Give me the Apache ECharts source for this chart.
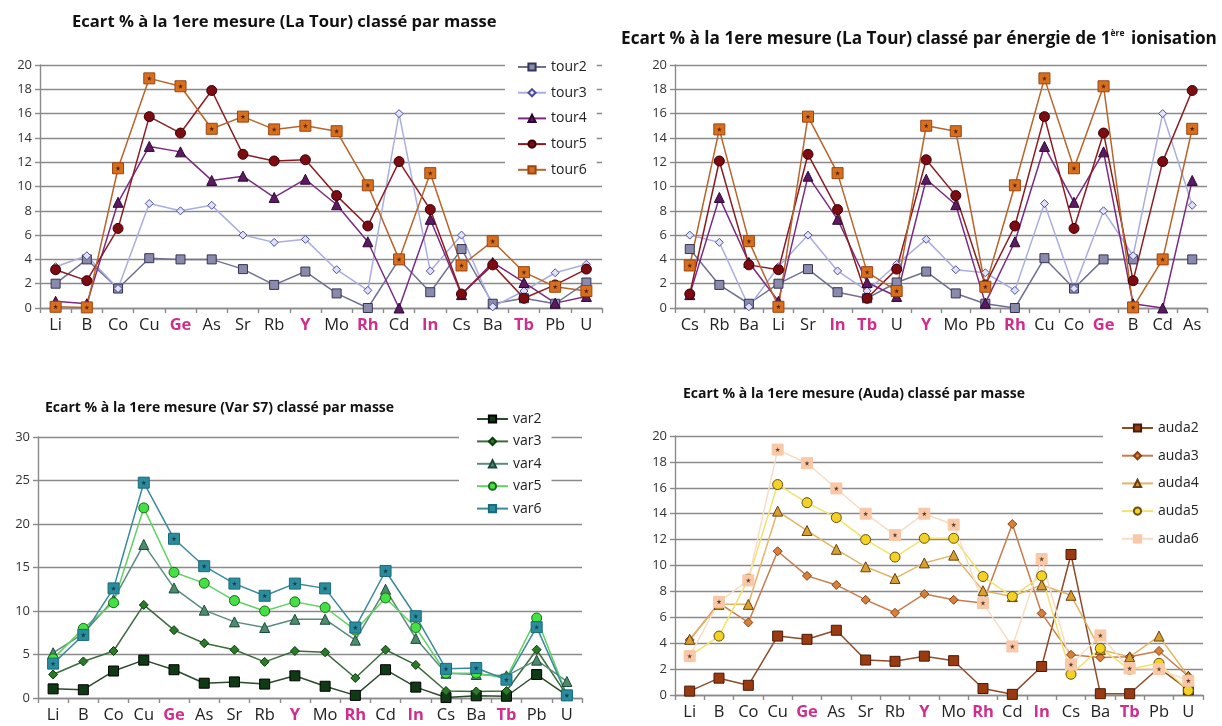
<!DOCTYPE html>
<html><head><meta charset="utf-8">
<script src="https://cdn.jsdelivr.net/npm/echarts@6/dist/echarts.min.js"></script>
<style>html,body{margin:0;padding:0;background:#fff}#c{width:1222px;height:726px}</style>
</head><body><div id="c"></div>
<script>
// ---- data ----
const massCats = ['Li','B','Co','Cu','Ge','As','Sr','Rb','Y','Mo','Rh','Cd','In','Cs','Ba','Tb','Pb','U'];
const ionCats  = ['Cs','Rb','Ba','Li','Sr','In','Tb','U','Y','Mo','Pb','Rh','Cu','Co','Ge','B','Cd','As'];
const pinkCats = ['Ge','Y','Rh','In','Tb'];

const tour2 = [2.0,4.0,1.6,4.1,4.0,4.0,3.2,1.9,3.0,1.2,0.0,4.0,1.3,4.85,0.35,0.8,0.35,2.1];
const tour3 = [3.4,4.3,1.6,8.6,8.0,8.45,6.0,5.4,5.65,3.15,1.45,16.0,3.05,6.0,0.1,1.4,2.9,3.6];
const tour4 = [0.55,0.35,8.7,13.3,12.85,10.5,10.85,9.1,10.6,8.5,5.45,0.0,7.3,1.1,3.75,2.1,0.4,0.95];
const tour5 = [3.15,2.25,6.55,15.75,14.4,17.9,12.65,12.1,12.2,9.25,6.75,12.05,8.1,1.15,3.55,0.8,1.9,3.2];
const tour6 = [0.1,0.05,11.5,18.9,18.25,14.75,15.75,14.7,15.0,14.55,10.1,4.0,11.1,3.5,5.5,2.95,1.75,1.4];

const var2 = [1.05,0.95,3.1,4.35,3.25,1.7,1.85,1.6,2.55,1.35,0.3,3.25,1.25,0.05,0.25,0.2,2.7,0.3];
const var3 = [2.7,4.2,5.4,10.7,7.8,6.3,5.55,4.15,5.4,5.25,2.3,5.55,3.8,0.8,0.75,0.8,5.55,0.3];
const var4 = [5.2,7.4,11.3,17.65,12.65,10.1,8.75,8.1,9.05,9.05,6.65,12.5,6.85,2.85,2.7,2.55,4.35,1.9];
const var5 = [4.5,8.0,10.95,21.85,14.45,13.2,11.2,10.0,11.05,10.4,7.8,11.5,8.1,2.85,2.85,2.3,9.2,0.3];
const var6 = [3.95,7.25,12.6,24.75,18.3,15.15,13.15,11.75,13.15,12.6,8.1,14.6,9.4,3.35,3.45,2.1,8.15,0.3];

const auda2 = [0.3,1.3,0.75,4.55,4.3,5.0,2.7,2.6,3.0,2.65,0.5,0.05,2.2,10.85,0.1,0.1,2.1,0.4];
const auda3 = [4.25,7.1,5.6,11.1,9.2,8.5,7.35,6.35,7.8,7.35,7.1,13.2,6.3,3.1,2.9,2.95,3.4,1.45];
const auda4 = [4.3,7.0,7.0,14.2,12.7,11.25,9.9,9.0,10.2,10.8,8.05,7.6,8.5,7.7,3.5,2.95,4.55,1.45];
const auda5 = [3.0,4.55,8.95,16.25,14.85,13.7,12.0,10.65,12.1,12.1,9.15,7.6,9.2,1.6,3.6,2.0,2.45,0.35];
const auda6 = [3.0,7.2,8.85,18.95,17.9,15.95,14.0,12.35,14.0,13.15,7.1,3.75,10.5,2.35,4.6,2.05,2.0,1.1];

// reorder mass-ordered values into ionisation order
const byIon = arr => ionCats.map(c => arr[massCats.indexOf(c)]);

// ---- styling ----
const FONT = 'Open Sans';
const GRID = '#8a8a8a';
const STAR = 'path://M5,0 L6,3.6 L10,3.8 L6.8,6 L8,10 L5,7.4 L2,10 L3.2,6 L0,3.8 L4,3.6 Z';

function catAxis(gi, cats) {
  return {
    type: 'category', gridIndex: gi, data: cats, boundaryGap: true,
    axisLine: { lineStyle: { color: GRID, width: 1.4 } },
    axisTick: { show: true, length: 5, lineStyle: { color: GRID, width: 1.4 } },
    axisLabel: {
      interval: 0, margin: 9, fontFamily: FONT, fontSize: 16.5, color: '#222',
      formatter: v => pinkCats.includes(v) ? '{p|' + v + '}' : v,
      rich: { p: { color: '#cf2e8c', fontWeight: 'bold', fontSize: 16.5, fontFamily: FONT } }
    }
  };
}
function valAxis(gi, max, interval) {
  return {
    type: 'value', gridIndex: gi, min: 0, max: max, interval: interval,
    axisLine: { show: true, lineStyle: { color: GRID, width: 1.4 } },
    axisTick: { show: true, length: 5, lineStyle: { color: GRID, width: 1.4 } },
    splitLine: { show: true, lineStyle: { color: GRID, width: 1.4 } },
    axisLabel: { fontFamily: FONT, fontSize: 13, color: '#333', margin: 8 }
  };
}
function line(name, data, gi, sym, size, fill, border, lc) {
  return {
    name: name, type: 'line', xAxisIndex: gi, yAxisIndex: gi, data: data,
    symbol: sym, symbolSize: size, showAllSymbol: true,
    lineStyle: { color: lc, width: 1.5 },
    itemStyle: { color: fill, borderColor: border, borderWidth: 1 },
    emphasis: { disabled: true }, animation: false, z: 3
  };
}
function stars(data, gi, color) {
  return {
    name: '_s' + gi, type: 'scatter', xAxisIndex: gi, yAxisIndex: gi, data: data,
    symbol: STAR, symbolSize: 5, itemStyle: { color: color }, silent: true, animation: false, z: 4
  };
}
function legend(names, left, top, padL, iw, gap) {
  return {
    data: names, orient: 'vertical', left: left, top: top,
    padding: [6, 10, 6, padL], itemWidth: iw, itemHeight: 9, itemGap: gap,
    backgroundColor: '#fff', inactiveColor: '#ccc',
    textStyle: { fontFamily: FONT, fontSize: 14, color: '#222', lineHeight: 14 }
  };
}

const titleStyle = { fontFamily: FONT, fontSize: 14, fontWeight: 'bold', color: '#111' };
const bigTitle = { fontFamily: FONT, fontSize: 16.6, fontWeight: 'bold', color: '#111' };

const option = {
  backgroundColor: '#fff',
  animation: false,
  title: [
    { text: 'Ecart % à la 1ere mesure (La Tour) classé par masse', left: 67, top: 9, textStyle: bigTitle },
    { text: 'Ecart % à la 1ere mesure (La Tour) classé par énergie de 1{sup|ère} ionisation', left: 616, top: 24,
      textStyle: Object.assign({}, bigTitle, { fontSize: 17.2, rich: { sup: { fontSize: 8.5, fontWeight: 'bold', fontFamily: FONT, color: '#111', padding: [0, 2, 11, 0] } } }) },
    { text: 'Ecart % à la 1ere mesure (Var S7) classé par masse', left: 40, top: 396, textStyle: titleStyle },
    { text: 'Ecart % à la 1ere mesure (Auda) classé par masse', left: 678, top: 382, textStyle: titleStyle }
  ],
  grid: [
    { left: 40, right: 620, top: 65, bottom: 418 },
    { left: 675, right: 15, top: 65, bottom: 418 },
    { left: 38, right: 640, top: 437, bottom: 28 },
    { left: 675, right: 19, top: 436, bottom: 31 }
  ],
  xAxis: [catAxis(0, massCats), catAxis(1, ionCats), catAxis(2, massCats), catAxis(3, massCats)],
  yAxis: [valAxis(0, 20, 2), valAxis(1, 20, 2), valAxis(2, 30, 5), valAxis(3, 20, 2)],
  legend: [
    legend(['tour2','tour3','tour4','tour5','tour6'], 505, 54, 12, 28, 11.7),
    legend(['var2','var3','var4','var5','var6'], 459, 406, 17, 31, 8.4),
    legend(['auda2','auda3','auda4','auda5','auda6'], 1103, 415, 18, 31, 13.7)
  ],
  series: [
    line('tour2', tour2, 0, 'rect', 9, '#8a8aaa', '#34345a', '#707090'),
    line('tour3', tour3, 0, 'diamond', 8, '#dfe2fa', '#4e4e9a', '#a9aee2'),
    line('tour4', tour4, 0, 'triangle', 10, '#5c1a62', '#2e0834', '#7b2b82'),
    line('tour5', tour5, 0, 'circle', 10, '#7c0b12', '#3a0006', '#8c1c22'),
    line('tour6', tour6, 0, 'rect', 11, '#d6701f', '#9c4412', '#b8642a'),
    stars(tour6, 0, '#3a1005'),

    line('tour2', byIon(tour2), 1, 'rect', 9, '#8a8aaa', '#34345a', '#707090'),
    line('tour3', byIon(tour3), 1, 'diamond', 8, '#dfe2fa', '#4e4e9a', '#a9aee2'),
    line('tour4', byIon(tour4), 1, 'triangle', 10, '#5c1a62', '#2e0834', '#7b2b82'),
    line('tour5', byIon(tour5), 1, 'circle', 10, '#7c0b12', '#3a0006', '#8c1c22'),
    line('tour6', byIon(tour6), 1, 'rect', 11, '#d6701f', '#9c4412', '#b8642a'),
    stars(byIon(tour6), 1, '#3a1005'),

    line('var2', var2, 2, 'rect', 10, '#0e3a14', '#000', '#2c4a2c'),
    line('var3', var3, 2, 'diamond', 9, '#2a7a2a', '#0a3a0a', '#3c6c3c'),
    line('var4', var4, 2, 'triangle', 10, '#4c8c6c', '#1a4a3a', '#5a8c7c'),
    line('var5', var5, 2, 'circle', 10, '#44e044', '#1a6a1a', '#62d062'),
    line('var6', var6, 2, 'rect', 11, '#2a8c9c', '#1a6a7a', '#3a8a9a'),
    stars(var6, 2, '#0a2a3a'),

    line('auda2', auda2, 3, 'rect', 10, '#9a3a10', '#4a1a05', '#8c4c2c'),
    line('auda3', auda3, 3, 'diamond', 9, '#d8803a', '#8a4010', '#c87c4c'),
    line('auda4', auda4, 3, 'triangle', 10, '#d8a030', '#6a4010', '#e2b466'),
    line('auda5', auda5, 3, 'circle', 10, '#f2d224', '#6a5010', '#f2e26a'),
    line('auda6', auda6, 3, 'rect', 11, '#f8c8a8', '#f8c8a8', '#f8dcc4'),
    stars(auda6, 3, '#3a1a05')
  ]
};
const chart = echarts.init(document.getElementById('c'), null, { renderer: 'canvas' });
chart.setOption(option);
</script>
</body></html>
